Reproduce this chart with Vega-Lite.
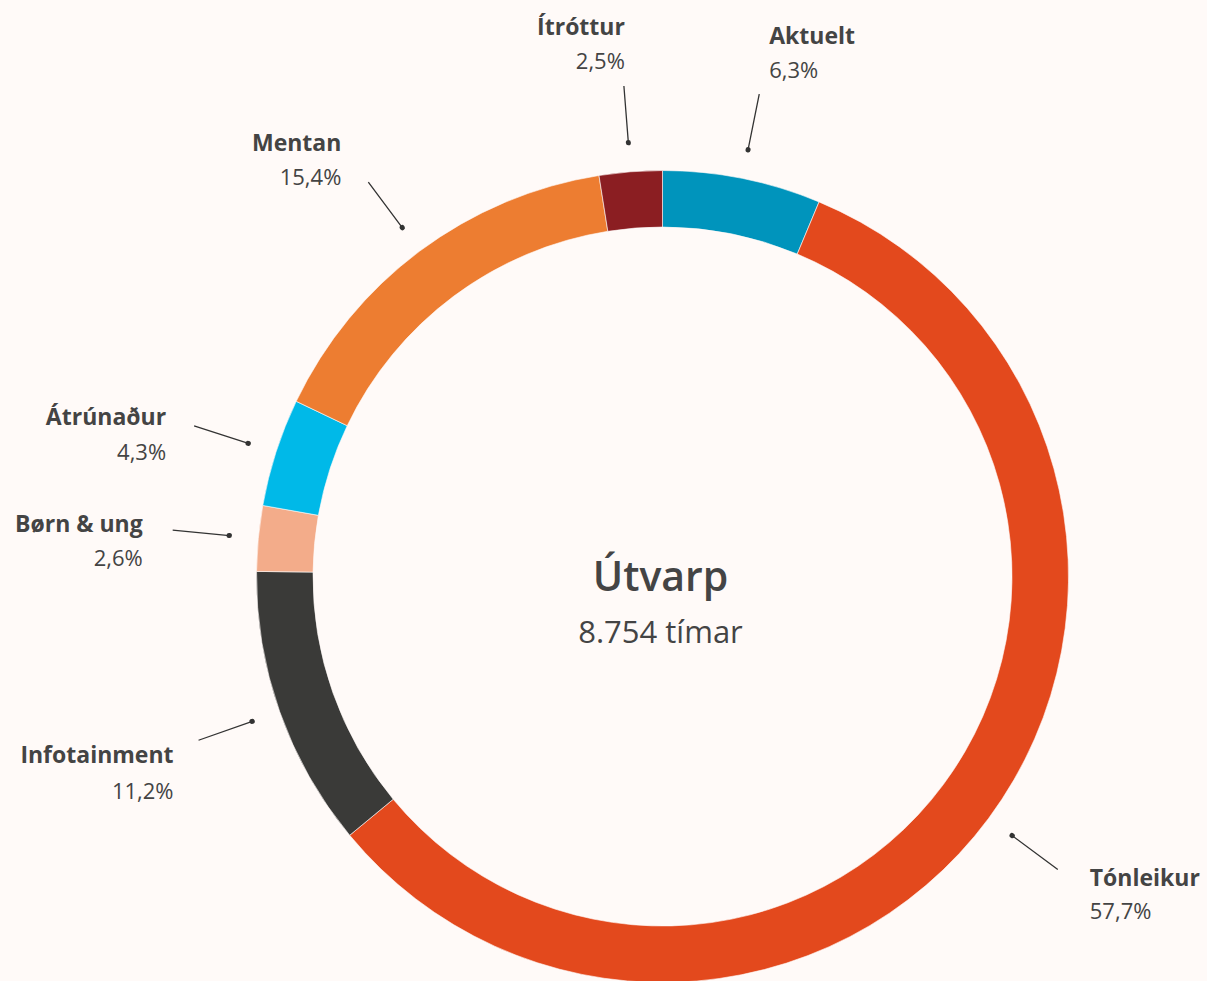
{
  "$schema": "https://vega.github.io/schema/vega-lite/v6.json",
  "width": 1089,
  "height": 809,
  "autosize": {"type": "none"},
  "padding": {"left": 118, "top": 172, "right": 0, "bottom": 0},
  "background": "#fffaf8",
  "config": {
    "view": {"stroke": null},
    "font": "Open Sans",
    "locale": {"number": {"decimal": ",", "thousands": ".", "grouping": [3], "currency": ["", ""]}}
  },
  "data": {
    "values": [
      {"name": "Aktuelt", "share": 0.063},
      {"name": "Tónleikur", "share": 0.577},
      {"name": "Infotainment", "share": 0.112},
      {"name": "Børn & ung", "share": 0.026},
      {"name": "Átrúnaður", "share": 0.043},
      {"name": "Mentan", "share": 0.154},
      {"name": "Ítróttur", "share": 0.025}
    ]
  },
  "transform": [
    {"window": [{"op": "row_number", "as": "idx"}]},
    {"stack": "share", "groupby": [], "sort": [{"field": "idx", "order": "ascending"}], "as": ["s", "e"]}
  ],
  "layer": [
    {
      "mark": {"type": "arc", "radius": 406, "radius2": 349.5, "stroke": "#fffaf8", "strokeWidth": 0.6},
      "encoding": {
        "theta": {"field": "s", "type": "quantitative", "stack": null, "scale": {"domain": [0, 1]}},
        "theta2": {"field": "e"},
        "color": {
          "field": "name", "type": "nominal", "legend": null,
          "scale": {
            "domain": ["Aktuelt", "Tónleikur", "Infotainment", "Børn & ung", "Átrúnaður", "Mentan", "Ítróttur"],
            "range": ["#0094bc", "#e3491d", "#3a3a38", "#f3ac8a", "#00b9e8", "#ed7d31", "#8b1e22"]
          }
        }
      }
    },
    {
      "transform": [
        {"fold": ["s", "e"], "as": ["k", "b"]},
        {"aggregate": [{"op": "mean", "field": "b", "as": "mid"}], "groupby": ["name", "share"]}
      ],
      "encoding": {
        "theta": {"field": "mid", "type": "quantitative", "stack": null, "scale": {"domain": [0, 1]}}
      },
      "layer": [
        {
          "mark": {"type": "arc", "radius": 492, "radius2": 435, "stroke": "#333333", "fill": "#333333", "strokeWidth": 1.3},
          "encoding": {"theta2": {"field": "mid"}}
        },
        {
          "mark": {"type": "arc", "radius": 435.4, "radius2": 435, "stroke": "#333333", "fill": "#333333", "strokeWidth": 5, "strokeJoin": "round", "strokeCap": "round"},
          "encoding": {"theta2": {"field": "mid"}}
        },
        {"transform": [{"filter": {"field": "name", "equal": "Aktuelt"}}],
         "mark": {"type": "text", "radius": 492, "align": "left", "baseline": "alphabetic", "dx": 10, "dy": -50, "fontSize": 23, "fontWeight": "bold", "color": "#444444"},
         "encoding": {"text": {"field": "name"}}},
        {"transform": [{"filter": {"field": "name", "equal": "Aktuelt"}}],
         "mark": {"type": "text", "radius": 492, "align": "left", "baseline": "alphabetic", "dx": 10, "dy": -16, "fontSize": 22, "color": "#444444"},
         "encoding": {"text": {"field": "share", "type": "quantitative", "format": ".1%"}}},
        {"transform": [{"filter": {"field": "name", "equal": "Ítróttur"}}],
         "mark": {"type": "text", "radius": 492, "align": "right", "baseline": "alphabetic", "dx": 1, "dy": -51, "fontSize": 23, "fontWeight": "bold", "color": "#444444"},
         "encoding": {"text": {"field": "name"}}},
        {"transform": [{"filter": {"field": "name", "equal": "Ítróttur"}}],
         "mark": {"type": "text", "radius": 492, "align": "right", "baseline": "alphabetic", "dx": 1, "dy": -17, "fontSize": 22, "color": "#444444"},
         "encoding": {"text": {"field": "share", "type": "quantitative", "format": ".1%"}}},
        {"transform": [{"filter": {"field": "name", "equal": "Mentan"}}],
         "mark": {"type": "text", "radius": 492, "align": "right", "baseline": "alphabetic", "dx": -27, "dy": -31, "fontSize": 23, "fontWeight": "bold", "color": "#444444"},
         "encoding": {"text": {"field": "name"}}},
        {"transform": [{"filter": {"field": "name", "equal": "Mentan"}}],
         "mark": {"type": "text", "radius": 492, "align": "right", "baseline": "alphabetic", "dx": -27, "dy": 3, "fontSize": 22, "color": "#444444"},
         "encoding": {"text": {"field": "share", "type": "quantitative", "format": ".1%"}}},
        {"transform": [{"filter": {"field": "name", "equal": "Átrúnaður"}}],
         "mark": {"type": "text", "radius": 492, "align": "right", "baseline": "alphabetic", "dx": -28, "dy": -1, "fontSize": 23, "fontWeight": "bold", "color": "#444444"},
         "encoding": {"text": {"field": "name"}}},
        {"transform": [{"filter": {"field": "name", "equal": "Átrúnaður"}}],
         "mark": {"type": "text", "radius": 492, "align": "right", "baseline": "alphabetic", "dx": -28, "dy": 34, "fontSize": 22, "color": "#444444"},
         "encoding": {"text": {"field": "share", "type": "quantitative", "format": ".1%"}}},
        {"transform": [{"filter": {"field": "name", "equal": "Børn & ung"}}],
         "mark": {"type": "text", "radius": 492, "align": "right", "baseline": "alphabetic", "dx": -30, "dy": 2, "fontSize": 23, "fontWeight": "bold", "color": "#444444"},
         "encoding": {"text": {"field": "name"}}},
        {"transform": [{"filter": {"field": "name", "equal": "Børn & ung"}}],
         "mark": {"type": "text", "radius": 492, "align": "right", "baseline": "alphabetic", "dx": -30, "dy": 36, "fontSize": 22, "color": "#444444"},
         "encoding": {"text": {"field": "share", "type": "quantitative", "format": ".1%"}}},
        {"transform": [{"filter": {"field": "name", "equal": "Infotainment"}}],
         "mark": {"type": "text", "radius": 492, "align": "right", "baseline": "alphabetic", "dx": -25, "dy": 23, "fontSize": 23, "fontWeight": "bold", "color": "#444444"},
         "encoding": {"text": {"field": "name"}}},
        {"transform": [{"filter": {"field": "name", "equal": "Infotainment"}}],
         "mark": {"type": "text", "radius": 492, "align": "right", "baseline": "alphabetic", "dx": -25, "dy": 59, "fontSize": 22, "color": "#444444"},
         "encoding": {"text": {"field": "share", "type": "quantitative", "format": ".1%"}}},
        {"transform": [{"filter": {"field": "name", "equal": "Tónleikur"}}],
         "mark": {"type": "text", "radius": 492, "align": "left", "baseline": "alphabetic", "dx": 32, "dy": 17, "fontSize": 23, "fontWeight": "bold", "color": "#444444"},
         "encoding": {"text": {"field": "name"}}},
        {"transform": [{"filter": {"field": "name", "equal": "Tónleikur"}}],
         "mark": {"type": "text", "radius": 492, "align": "left", "baseline": "alphabetic", "dx": 32, "dy": 50, "fontSize": 22, "color": "#444444"},
         "encoding": {"text": {"field": "share", "type": "quantitative", "format": ".1%"}}}
      ]
    },
    {
      "data": {"values": [{"title": "Útvarp", "sub": "8.754 tímar"}]},
      "layer": [
        {"mark": {"type": "text", "align": "center", "baseline": "alphabetic", "dx": -2, "dy": 14, "fontSize": 41, "fontWeight": 600, "color": "#444444"},
         "encoding": {"text": {"field": "title"}}},
        {"mark": {"type": "text", "align": "center", "baseline": "alphabetic", "dx": -2, "dy": 66, "fontSize": 31, "fontWeight": 400, "color": "#444444"},
         "encoding": {"text": {"field": "sub"}}}
      ]
    }
  ]
}
